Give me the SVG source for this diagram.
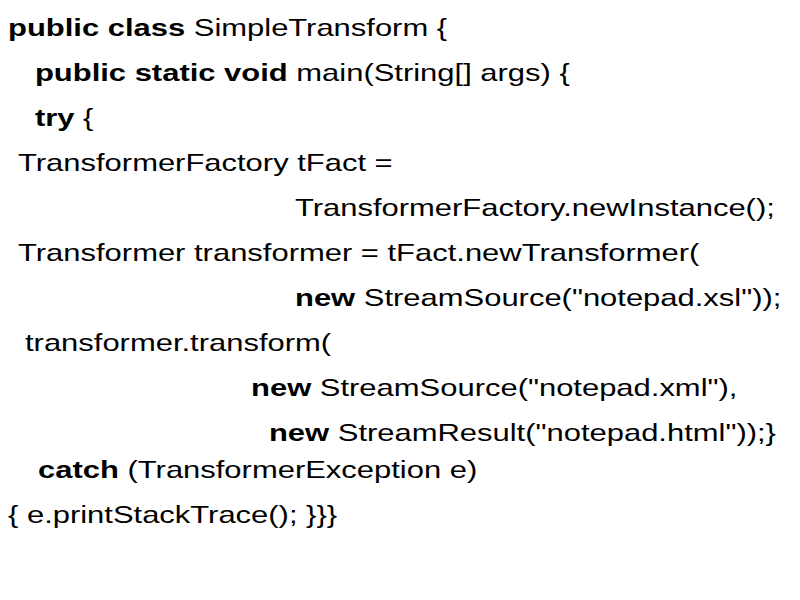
<svg xmlns="http://www.w3.org/2000/svg" width="800" height="600" viewBox="0 0 800 600">
<style>text{font-family:"Liberation Sans",Arial,sans-serif;font-size:24px;fill:#000}.b{font-weight:bold}</style>
<rect width="800" height="600" fill="#fff"/>
<g transform="scale(1.29,1)">
<text x="6.2" y="36"><tspan class="b">public class</tspan> SimpleTransform {</text>
<text x="27.1" y="81"><tspan class="b">public static void</tspan> main(String[] args) {</text>
<text x="27.1" y="126"><tspan class="b">try</tspan> {</text>
<text x="14" y="171">TransformerFactory tFact =</text>
<text x="228.7" y="216">TransformerFactory.newInstance();</text>
<text x="14" y="261">Transformer transformer = tFact.newTransformer(</text>
<text x="228.7" y="306"><tspan class="b">new</tspan> StreamSource("notepad.xsl"));</text>
<text x="19.4" y="351">transformer.transform(</text>
<text x="194.6" y="396"><tspan class="b">new</tspan> StreamSource("notepad.xml"),</text>
<text x="208.5" y="441"><tspan class="b">new</tspan> StreamResult("notepad.html"));}</text>
<text x="29.5" y="478"><tspan class="b">catch</tspan> (TransformerException e)</text>
<text x="6.2" y="523">{ e.printStackTrace(); }}}</text>
</g>
</svg>
